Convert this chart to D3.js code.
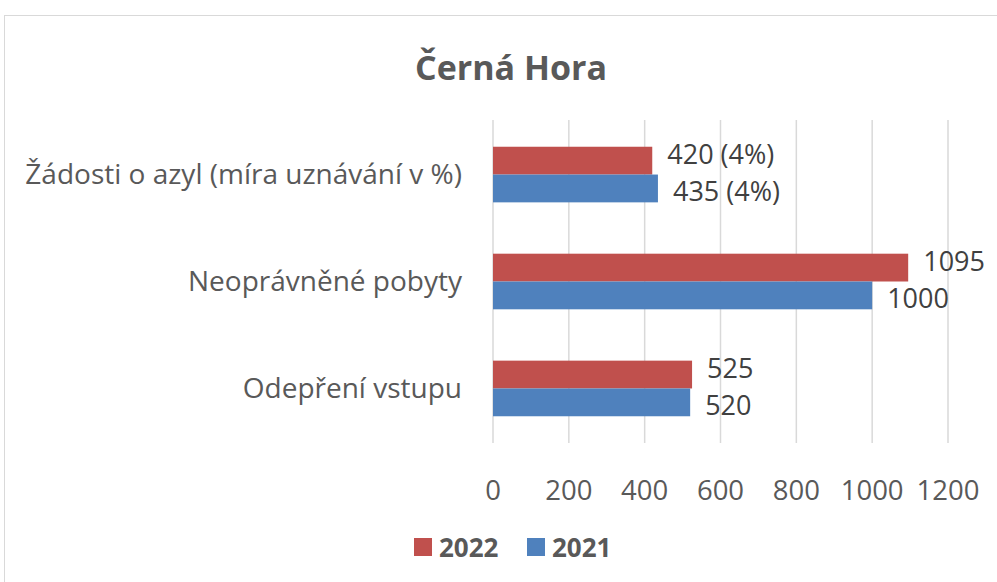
<!DOCTYPE html>
<html>
<head>
<meta charset="utf-8">
<script src="https://cdn.jsdelivr.net/npm/d3@7"></script>
<style>
  body { margin: 0; background: #fff; }
  text { font-family: "Open Sans", sans-serif; }
</style>
</head>
<body>
<div id="chart"></div>
<script>
const categories = ["Žádosti o azyl (míra uznávání v %)", "Neoprávněné pobyty", "Odepření vstupu"];
const series = ["2022", "2021"];
const values2022 = [420, 1095, 525];
const values2021 = [435, 1000, 520];
const labels2022 = ["420 (4%)", "1095", "525"];
const labels2021 = ["435 (4%)", "1000", "520"];
const ticks = [0, 200, 400, 600, 800, 1000, 1200];

const width = 997, height = 582;
const colors = { "2022": "#C0504D", "2021": "#4F81BD" };

const svg = d3.select("#chart")
  .append("svg")
  .attr("width", width)
  .attr("height", height);

// outer chart frame
svg.append("rect")
  .attr("x", 4.5).attr("y", 15.5)
  .attr("width", 1000).attr("height", 600)
  .attr("fill", "#fff")
  .attr("stroke", "#d9d9d9");

const x = d3.scaleLinear().domain([0, 1200]).range([493, 948]);
const y = d3.scaleBand().domain(categories).range([120, 443]).paddingInner(0.48).paddingOuter(0.25);
const ySub = d3.scaleBand().domain(series).range([0, y.bandwidth()]);

// gridlines
svg.append("g")
  .selectAll("line")
  .data(ticks)
  .join("line")
  .attr("x1", d => x(d)).attr("x2", d => x(d))
  .attr("y1", 120).attr("y2", 443)
  .attr("stroke", "#d9d9d9")
  .attr("stroke-width", 1.5);

// tick labels
svg.append("g")
  .selectAll("text")
  .data(ticks)
  .join("text")
  .attr("x", d => x(d))
  .attr("y", 500)
  .attr("text-anchor", "middle")
  .attr("fill", "#595959")
  .style("font-size", "27.5px")
  .text(d => d);

// category labels
svg.append("g")
  .selectAll("text")
  .data(categories)
  .join("text")
  .attr("x", 462)
  .attr("y", d => y(d) + y.bandwidth() / 2)
  .attr("dy", "0.35em")
  .attr("text-anchor", "end")
  .attr("fill", "#595959")
  .style("font-size", "28px")
  .text(d => d);

const rows = [
  { key: "2022", values: values2022, labels: labels2022, shift: -6 },
  { key: "2021", values: values2021, labels: labels2021, shift: 3 }
];

rows.forEach(r => {
  svg.append("g")
    .selectAll("rect")
    .data(categories)
    .join("rect")
    .attr("x", x(0))
    .attr("y", (d) => y(d) + ySub(r.key))
    .attr("width", (d, i) => x(r.values[i]) - x(0))
    .attr("height", ySub.bandwidth())
    .attr("fill", colors[r.key]);

  svg.append("g")
    .selectAll("text")
    .data(categories)
    .join("text")
    .attr("x", (d, i) => x(r.values[i]) + 15)
    .attr("y", d => y(d) + ySub(r.key) + ySub.bandwidth() / 2 + r.shift)
    .attr("dy", "0.35em")
    .attr("fill", "#404040")
    .style("font-size", "27px")
    .text((d, i) => r.labels[i]);
});

// title
svg.append("text")
  .attr("x", 511).attr("y", 80)
  .attr("text-anchor", "middle")
  .attr("fill", "#595959")
  .style("font-size", "34px")
  .style("font-weight", "bold")
  .text("Černá Hora");

// legend
const legend = svg.append("g");
const legendX = [414, 527];
series.forEach((s, i) => {
  legend.append("rect")
    .attr("x", legendX[i]).attr("y", 538)
    .attr("width", 18).attr("height", 18)
    .attr("fill", colors[s]);
  legend.append("text")
    .attr("x", legendX[i] + 25).attr("y", 557)
    .attr("fill", "#595959")
    .style("font-size", "26px")
    .style("font-weight", "bold")
    .text(s);
});
</script>
</body>
</html>
